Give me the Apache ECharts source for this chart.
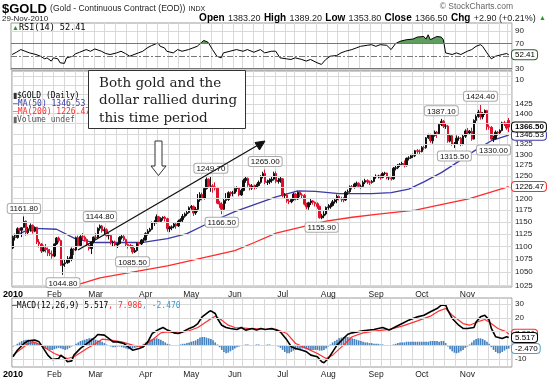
<!DOCTYPE html>
<html><head><meta charset="utf-8">
<script src="https://cdn.jsdelivr.net/npm/echarts@6/dist/echarts.min.js"></script>
<style>html,body{margin:0;padding:0;background:#fff}#c{width:550px;height:380px}</style>
</head><body><div id="c"></div>
<script>
// ---------- DATA ----------
const holidays = ['2010-01-18','2010-02-15','2010-04-02','2010-05-31','2010-07-05','2010-09-06','2010-11-25'];
// daily bars [open, close, low, high]
const ohlc = [
[1097,1118,1095,1122],[1118,1118,1112,1126],[1118,1136,1116,1139],[1136,1133,1124,1138],[1133,1138,1119,1139],
[1139,1151,1138,1161.8],[1152,1128,1122,1153],[1128,1136,1123,1140],[1136,1143,1130,1147],[1143,1131,1126,1145],
[1131,1139,1129,1141],[1139,1109,1105,1140],[1109,1105,1098,1115],[1105,1091,1087,1107],
[1091,1097,1090,1102],[1097,1094,1088,1105],[1094,1087,1081,1098],[1087,1085,1081,1095],[1085,1081,1076,1092],
[1081,1105,1079,1106],[1105,1117,1103,1119],[1117,1112,1108,1120],[1112,1063,1062,1114],[1063,1066,1044.8,1073],
[1066,1068,1060,1074],[1068,1074,1066,1081],[1074,1076,1068,1080],[1076,1095,1071,1098],[1095,1093,1083,1097],
[1093,1118,1091,1120],[1118,1102,1100,1122],[1102,1120,1100,1123],[1120,1119,1113,1127],
[1119,1114,1110,1122],[1114,1103,1099,1116],[1103,1096,1092,1105],[1096,1109,1085,1110],[1109,1119,1106,1120],
[1119,1118,1114,1127],[1118,1137,1116,1139],[1137,1142,1132,1144.8],[1142,1132,1128,1144],[1132,1134,1123,1139],
[1134,1122,1120,1137],[1122,1122,1114,1127],[1122,1108,1104,1124],[1108,1109,1101,1112],[1109,1103,1100,1112],
[1103,1106,1097,1107],[1106,1118,1104,1121],[1118,1120,1114,1125],[1120,1114,1111,1123],[1114,1104,1100,1116],
[1104,1102,1096,1106],[1102,1101,1096,1105],[1101,1089,1085.5,1103],[1089,1092,1087,1097],[1092,1106,1090,1108],
[1106,1105,1101,1109],[1105,1113,1103,1115],[1113,1113,1107,1118],[1113,1126,1112,1129],
[1126,1131,1122,1135],[1131,1135,1129,1138],[1135,1148,1133,1151],[1148,1150,1142,1154],[1150,1161,1147,1166],
[1161,1151,1148,1163],[1151,1158,1149,1160],[1158,1160,1153,1162],[1160,1157,1151,1163],[1157,1136,1130,1159],
[1136,1138,1129,1142],[1138,1140,1133,1143],[1140,1146,1137,1149],[1146,1142,1136,1148],[1142,1152,1140,1155],
[1152,1155,1149,1158],[1155,1162,1148,1167],[1162,1167,1159,1170],[1167,1170,1163,1174],[1170,1180,1168,1183],
[1180,1183,1176,1186],[1183,1169,1163,1185],[1169,1177,1165,1182],[1177,1197,1172,1210],[1197,1209,1193,1214],
[1209,1201,1196,1213],[1201,1222,1198,1224],[1222,1243,1220,1247],[1243,1227,1225,1245],[1227,1228,1215,1249.7],
[1228,1226,1213,1232],[1226,1223,1218,1236],[1223,1190,1188,1226],[1190,1188,1180,1195],[1188,1177,1166.5,1192],
[1177,1196,1175,1199],[1196,1198,1189,1212],[1198,1213,1195,1216],[1213,1212,1205,1216],[1212,1212,1205,1217],
[1212,1222,1210,1226],[1222,1224,1215,1227],[1224,1208,1205,1225],[1208,1218,1206,1222],
[1218,1240,1216,1244],[1240,1245,1235,1249],[1245,1230,1226,1247],[1230,1223,1218,1233],[1223,1228,1219,1232],
[1228,1226,1220,1231],[1226,1229,1222,1233],[1229,1236,1227,1240],[1236,1249,1233,1252],[1249,1256,1245,1260],
[1256,1236,1232,1265],[1236,1237,1230,1242],[1237,1240,1232,1245],[1240,1243,1235,1248],[1243,1256,1240,1260],
[1256,1238,1234,1261],[1238,1240,1233,1246],[1240,1244,1235,1249],
[1244,1207,1203,1245],[1207,1208,1200,1212],
[1208,1195,1191,1212],[1195,1193,1188,1199],[1193,1198,1190,1201],[1198,1210,1195,1213],
[1210,1199,1196,1212],[1199,1214,1197,1216],[1214,1208,1203,1217],[1208,1207,1200,1212],[1207,1188,1185,1210],
[1188,1182,1177,1191],[1182,1191,1176,1193],[1191,1195,1186,1199],[1195,1192,1187,1197],[1192,1189,1183,1194],
[1189,1183,1178,1192],[1183,1159,1157,1185],[1159,1163,1155.9,1167],[1163,1167,1158,1173],[1167,1181,1164,1183],
[1181,1182,1176,1188],[1182,1185,1178,1190],[1185,1193,1183,1197],[1193,1197,1189,1200],[1197,1205,1190,1209],
[1205,1200,1196,1207],[1200,1199,1193,1204],[1199,1197,1192,1203],[1197,1214,1195,1217],[1214,1215,1208,1220],
[1215,1226,1213,1229],[1226,1225,1220,1230],[1225,1232,1222,1235],[1232,1234,1227,1238],[1234,1227,1224,1236],
[1227,1227,1222,1231],[1227,1236,1224,1240],[1236,1240,1232,1244],[1240,1237,1232,1243],[1237,1236,1230,1240],
[1236,1238,1233,1241],[1238,1248,1236,1250],
[1248,1250,1244,1254],[1250,1250,1245,1253],[1250,1247,1242,1254],
[1247,1256,1245,1259],[1256,1257,1252,1260],[1257,1246,1243,1258],[1246,1246,1241,1249],
[1246,1244,1240,1249],[1244,1268,1242,1271],[1268,1269,1263,1274],[1269,1276,1266,1278],[1276,1277,1271,1280],
[1277,1279,1273,1283],[1279,1274,1270,1286],[1274,1291,1272,1293],[1291,1292,1286,1296],[1292,1297,1290,1300],
[1297,1297,1292,1302],[1297,1309,1294,1311],[1309,1308,1302,1313],[1308,1307,1299,1312],
[1307,1317,1305,1320],
[1317,1316,1311,1321],[1316,1340,1314,1342],[1340,1348,1337,1350],[1348,1333,1328,1350],[1333,1346,1326,1349],
[1346,1354,1343,1358],[1354,1350,1340,1357],[1350,1373,1348,1376],[1373,1381,1369,1387.1],[1381,1369,1364,1384],
[1369,1369,1362,1374],[1369,1332,1328,1372],[1332,1345,1329,1348],[1345,1325,1321,1349],[1325,1325,1315.5,1330],
[1325,1339,1323,1346],[1339,1339,1333,1344],[1339,1325,1320,1342],[1325,1344,1322,1347],[1344,1357,1340,1361],
[1357,1352,1347,1364],[1352,1356,1349,1359],[1356,1337,1333,1365],[1337,1383,1336,1386],[1383,1393,1375,1398],
[1393,1404,1390,1410],[1404,1392,1385,1424.4],[1392,1401,1386,1404],[1401,1408,1397,1411],[1408,1367,1359,1410],
[1367,1366,1360,1373],[1366,1337,1335,1369],[1337,1338,1330,1345],[1338,1354,1336,1358],[1354,1352,1345,1357],
[1352,1358,1349,1361],[1358,1377,1356,1380],[1377,1374,1369,1382],[1374,1364,1360,1378],
[1383.2,1366.5,1353.8,1389.2]
];
// moving averages: [day index, value]
const ma50 = [[0,1119],[5,1130],[10,1137],[20,1135],[29,1115],[38,1108],[59,1108],[71,1116],[80,1126],[90,1148],[102,1172],[111,1187],[121,1204],[131,1217],[139,1216],[150,1211],[165,1211],[174,1213],[182,1221],[189,1237],[197,1258],[205,1284],[212,1308],[220,1333],[228,1346.53]];
const ma200 = [[18,1012],[40,1039],[71,1062],[102,1092],[111,1108],[121,1127],[144,1152],[156,1160],[167,1166],[185,1175],[198,1188],[210,1200],[228,1226.47]];
const rsi = [[0,52.7],[2,56.3],[4,60.6],[6,57.9],[8,55.3],[11,52.7],[13,50],[15,45.8],[16,47.4],[18,42.2],[19,47.4],[21,45.8],[22,39.6],[24,38.5],[25,47.4],[28,50],[29,53.7],[31,56.3],[34,60.6],[36,57.9],[38,61.6],[41,57.9],[43,54.3],[45,52.7],[48,55.3],[50,57.9],[52,54.3],[54,50],[56,52.7],[58,55.3],[60,57.9],[62,63.2],[64,66.9],[67,71.1],[68,65.8],[70,63.2],[71,57.9],[74,55.3],[76,60.6],[78,57.9],[81,60.6],[83,63.2],[85,65.8],[87,72.1],[88,75.2],[90,72.1],[92,60.6],[94,50],[96,47.4],[97,55.3],[100,57.9],[103,60.6],[106,57.9],[108,60.6],[111,56.3],[114,60.6],[116,55.3],[119,57.9],[121,58],[123,47.4],[126,45.8],[128,44.8],[130,47.4],[133,44.8],[135,42.2],[137,44.8],[140,39.6],[142,36.9],[144,44.8],[146,50],[149,51.1],[151,55.3],[153,57.9],[156,60.6],[158,63.2],[160,65.8],[163,67.4],[165,68.4],[167,65.8],[169,68.4],[172,67.4],[174,60.6],[176,70],[178,73.7],[181,76.3],[184,77.3],[186,80.5],[189,81.5],[190,77.3],[191,84.2],[192,76.3],[195,81.5],[197,80.5],[198,76.3],[199,55.3],[202,52.7],[204,55.3],[206,52.7],[209,57.9],[211,60.6],[213,65.8],[215,68.4],[216,65.8],[218,55.3],[220,45.8],[222,50],[225,52.7],[227,54.3],[228,52.41]];
const macd = [[0,-8.5],[2,-3.7],[5,1.2],[7,3.2],[10,3.7],[12,2.4],[14,-2.4],[16,-7.3],[18,-10.5],[21,-9.8],[22,-7.3],[24,-9.8],[25,-12.2],[27,-11.5],[28,-7.3],[31,-2.4],[33,0],[35,2.4],[38,6.1],[39,7.8],[42,7.3],[44,4.9],[46,2.4],[48,2.4],[51,1.2],[53,-1.2],[55,-3.7],[58,-2.4],[60,-1.2],[62,2.4],[64,8.5],[67,11.5],[69,12.9],[71,11],[74,9],[76,8.5],[78,9.7],[81,12.2],[83,13.4],[85,15.8],[87,20.7],[90,24.4],[91,25.1],[93,23.2],[94,19.5],[96,14.6],[98,12.9],[100,12.2],[103,11.5],[105,12.9],[107,11],[110,12.2],[112,11],[114,12.2],[116,11.5],[119,12.2],[121,11],[123,9.7],[126,3.7],[128,-1.2],[130,-2.4],[133,-3.7],[135,-4.9],[137,-7.3],[140,-8.5],[142,-12.2],[143,-12.9],[145,-9.8],[147,-4.9],[149,0],[152,4.9],[154,8],[156,9],[161,10.5],[166,11.5],[170,12.9],[173,11],[176,13.4],[179,15.8],[182,18.3],[186,20.7],[189,21.9],[192,24.4],[195,26.8],[197,29.3],[199,29.3],[200,25.6],[202,19.5],[205,14.6],[207,12.2],[209,12.2],[212,12.9],[213,17],[215,20.7],[217,21.9],[219,18.3],[220,12.2],[222,6.1],[225,4.9],[227,6.1],[228,5.517]];
const signal = [[0,-7.3],[4,-2.4],[7,1.2],[10,2],[13,0],[16,-3.2],[19,-6.1],[22,-8],[25,-9.8],[28,-8.5],[31,-5.6],[34,-2.4],[38,1.2],[41,4.4],[45,3.7],[50,2.4],[55,0],[59,-1.2],[64,3.7],[68,9],[71,9.7],[76,9],[81,10.5],[85,12.9],[90,18.3],[93,21.2],[96,18.3],[99,14.6],[102,12.9],[108,12.2],[114,11.8],[121,11.5],[126,8.5],[130,1.2],[135,-2.4],[140,-6.1],[144,-9.8],[147,-7.3],[152,0],[156,6.1],[161,9],[167,10.5],[173,11.5],[179,13.9],[186,17.8],[192,21.2],[196,25.1],[199,26.8],[202,21.9],[207,15.8],[210,14.6],[215,17.8],[217,18.8],[219,17],[223,12.2],[227,9.7],[228,7.986]];
const hist = [
-1,0,1,2, 3,3.5,4,4,3.5,3,2.5, 1.5,0.5,-0.5,-1.5,
-2.5,-3,-3.5,-3.5,-3,-2.5,-2,-2.5,-3,-3.5,-3,-2,-1,
0,1,2,3,3.5,4,4.5,5,5,4.5,4,3.5,3,2.5,1.5,
0.5,-0.5,-1,-1.5,-1.5,-1,-1,-1.5,-2,-2.5,-3,-3,-2.5,-2,-1.5,-1,
0,1,2,3,4,4.5,5,5,4.5,4,3,2,
1,0.5,0,-0.5,-0.5,0,0.5,1,1,1.5,
2,2.5,3,3.5,4.5,5.5,6,6,5.5,5,4.5,3.5,2,
0.5,-1.5,-3.5,-5,-6,-5.5,-4.5,-3.5,-2.5,-1.5,-1,-0.5,
0,0.5,0.5,0,-0.5,0,0.5,0.5,0,-0.5,0,0.5,0.5,0,-0.5,-0.5,
-1,-2,-3.5,-5,-6,-6,-5,-4,-3.5,-3,-3,-2.5,-2.5,-3,-3.5,-3.5,
-3.5,-3.5,-3.5,-4,-4,-3.5,-2.5,-1,
0.5,2,3,4,5,5.5,6,6,6,5.5,5,4.5,4,3.5,3,2.5,
2,2,1.5,1.5,1,1,1,0.5,0.5,0,-0.5,-0.5,0,
0.5,1,1.5,2,2,2,2.5,2.5,2.5,2.5,2.5,2.5,2.5,2.5,2.5,2.5,2.5,3,3,3,3,2.5,3,3,
1.5,-1,-3,-4.5,-5.5,-6,-5.5,-4.5,-3.5,-2,
-1,0.5,2,3.5,4.5,5,5,4.5,3.5,2.5,1,
-1.5,-3.5,-5,-6,-6,-5,-4,-3,-2.47
];
// annotated highs / lows: [day index, price, side]
const callouts = [[5,1161.8,'top'],[23,1044.8,'bottom'],[40,1144.8,'top'],[55,1085.5,'bottom'],[91,1249.7,'top'],[96,1166.5,'bottom'],[116,1265.0,'top'],[142,1155.9,'bottom'],[197,1387.1,'top'],[203,1315.5,'bottom'],[215,1424.4,'top'],[221,1330.0,'bottom']];
const priceGrid = [1025,1050,1075,1100,1125,1150,1175,1200,1225,1250,1275,1300,1325,1350,1375,1400,1425,1450,1475,1500];
const priceTickLabels = [1025,1050,1075,1100,1125,1150,1175,1200,1250,1275,1300,1325,1400,1425];
const macdGrid = [-10,0,10,20,30];
const macdTickLabels = [-10,20,30];
const last = {close:1366.5, ma50:1346.53, ma200:1226.47, rsi:52.41, macd:5.517, signal:7.986, hist:-2.470};

// ---------- CATEGORIES ----------
const dates = [];
(function(){
  const d = new Date(Date.UTC(2010,0,4)), end = Date.UTC(2010,10,29);
  while (d.getTime() <= end) {
    const wd = d.getUTCDay(), s = d.toISOString().slice(0,10);
    if (wd > 0 && wd < 6 && holidays.indexOf(s) < 0) dates.push(s);
    d.setUTCDate(d.getUTCDate() + 1);
  }
})();
const cats = dates.concat(['']);
const MON = ['Jan','Feb','Mar','Apr','May','Jun','Jul','Aug','Sep','Oct','Nov','Dec'];
function dow(s){ return new Date(s + 'T00:00:00Z').getUTCDay(); }
function monthStart(i){ if (!cats[i]) return false; return i === 0 || cats[i].slice(5,7) !== cats[i-1].slice(5,7); }
function weekStart(i){ if (i === 0 || !cats[i]) return false; return dow(cats[i]) < dow(cats[i-1]); }

const FONT = 'Liberation Sans, Arial, sans-serif';
const MONO = 'DejaVu Sans Mono, monospace';
const GRIDC = '#d9d9d9';
const CLEAR = 'rgba(0,0,0,0)';

function xAx(g, labels){
  return {type:'category', gridIndex:g, data:cats, boundaryGap:true,
    axisLine:{show:false}, axisTick:{show:false},
    splitLine:{show:true, interval:(i)=>weekStart(i), lineStyle:{color:GRIDC, width:1}},
    axisLabel: labels ? {show:true, interval:(i)=>monthStart(i), margin:3, fontSize:8.5, color:'#222', fontFamily:FONT,
      formatter:(v,i)=> i === 0 ? '{y|2010}' : (v ? MON[parseInt(v.slice(5,7),10)-1] : ''),
      rich:{y:{fontWeight:'bold', fontSize:9, color:'#000', fontFamily:FONT}}} : {show:false}
  };
}
const tickLabel = {position:'end', distance:3, fontSize:8, color:'#222', fontFamily:FONT};
function tag(v, txt, border, bold){
  return {yAxis:v, lineStyle:{color:CLEAR, width:1, type:'solid'}, label:{show:true, position:'end', distance:0, formatter:txt, fontSize:8, fontFamily:FONT,
    fontWeight: bold ? 'bold' : 'normal', color:'#000', backgroundColor:'#fff', borderColor:border, borderWidth:1, borderRadius:3, padding:[1,2,0,3]}};
}

const chart = echarts.init(document.getElementById('c'), null, {renderer:'canvas'});
chart.setOption({
  animation:false,
  backgroundColor:'#fff',
  textStyle:{fontFamily:FONT},
  grid:[
    {left:11, right:38, top:23, height:47, show:true, borderColor:'#9a9a9a', borderWidth:1, backgroundColor:'#fff'},
    {left:11, right:38, top:71, height:216, show:true, borderColor:'#9a9a9a', borderWidth:1, backgroundColor:'#fff'},
    {left:11, right:38, top:298, height:69, show:true, borderColor:'#9a9a9a', borderWidth:1, backgroundColor:'#fff'}
  ],
  xAxis:[xAx(0,false), xAx(1,true), xAx(2,true)],
  yAxis:[
    {type:'value', gridIndex:0, min:28, max:103, show:false},
    {type:'log', gridIndex:1, min:1022, max:1513, show:false},
    {type:'value', gridIndex:2, min:-16, max:34.5, show:false}
  ],
  visualMap:[{type:'piecewise', show:false, seriesIndex:0, dimension:1,
    pieces:[{gt:70, lte:200, color:'#5f9e5f'},{gte:-100, lte:70, color:CLEAR}],
    outOfRange:{color:CLEAR}}],
  series:[
    {type:'line', xAxisIndex:0, yAxisIndex:0, data:rsi, symbol:'none', lineStyle:{width:0}, areaStyle:{origin:70, opacity:1}, z:1, silent:true},
    {type:'line', xAxisIndex:0, yAxisIndex:0, data:rsi, symbol:'none', lineStyle:{color:'#000', width:1}, z:3, silent:true,
      markLine:{silent:true, symbol:['none','none'], animation:false, label:Object.assign({formatter:(p)=>p.value}, tickLabel),
        data:[
          {yAxis:90, lineStyle:{color:GRIDC, type:'solid', width:1}},
          {yAxis:70, lineStyle:{color:'#777', type:'solid', width:1}},
          {yAxis:50, lineStyle:{color:'#777', type:[6,2,2,2], width:1}, label:{show:false}},
          {yAxis:30, lineStyle:{color:'#777', type:'solid', width:1}},
          tag(last.rsi, last.rsi.toFixed(2), '#2f5f2f', false)
        ]}},
    {type:'line', xAxisIndex:1, yAxisIndex:1, data:[], symbol:'none', z:1, silent:true,
      markLine:{silent:true, symbol:['none','none'], animation:false,
        label:Object.assign({formatter:(p)=>p.value}, tickLabel),
        lineStyle:{color:GRIDC, type:'solid', width:1},
        data: priceGrid.map(v => ({yAxis:v, label:{show: priceTickLabels.indexOf(v) >= 0}}))}},
    {type:'line', xAxisIndex:1, yAxisIndex:1, data:ma200, symbol:'none', lineStyle:{color:'#ff2a2a', width:1.3}, z:3, silent:true},
    {type:'line', xAxisIndex:1, yAxisIndex:1, data:ma50, symbol:'none', lineStyle:{color:'#3a3aa8', width:1.3}, z:3, silent:true},
    {type:'candlestick', xAxisIndex:1, yAxisIndex:1, data:ohlc, barMinWidth:2, barMaxWidth:2.6, z:4, silent:true,
      itemStyle:{color:'#111', color0:'#e3102d', borderColor:'#111', borderColor0:'#e3102d', borderWidth:1},
      markPoint:{silent:true, animation:false, symbol:'circle', symbolSize:1, itemStyle:{color:CLEAR},
        data: callouts.map(c => ({coord:[c[0], c[1]], value:c[1],
          label:{show:true, position:c[2], distance:3, formatter:(p)=>Number(p.value).toFixed(2), fontSize:8, fontFamily:FONT, color:'#111',
            backgroundColor:'#fff', borderColor:'#aaa', borderWidth:1, borderRadius:2, padding:[1,2,0,2]}}))},
      markLine:{silent:true, symbol:['none','none'], animation:false,
        data:[tag(last.ma200, last.ma200.toFixed(2), '#ff2a2a', false), tag(last.ma50, last.ma50.toFixed(2), '#3a3aa8', false), tag(last.close, last.close.toFixed(2), '#000', true)]}},
    {type:'bar', xAxisIndex:2, yAxisIndex:2, data:hist, barCategoryGap:'25%', itemStyle:{color:'#4683be'}, z:2, silent:true,
      markLine:{silent:true, symbol:['none','none'], animation:false,
        label:Object.assign({formatter:(p)=>p.value}, tickLabel),
        lineStyle:{color:GRIDC, type:'solid', width:1},
        data: macdGrid.map(v => ({yAxis:v, label:{show: macdTickLabels.indexOf(v) >= 0}})).concat([
          tag(last.signal, last.signal.toFixed(3), '#ff2a2a', false),
          tag(last.macd, last.macd.toFixed(3), '#000', false),
          tag(last.hist, last.hist.toFixed(3), '#4b9fd6', false)])}},
    {type:'line', xAxisIndex:2, yAxisIndex:2, data:signal, symbol:'none', lineStyle:{color:'#ff3030', width:1.2}, z:3, silent:true},
    {type:'line', xAxisIndex:2, yAxisIndex:2, data:macd, symbol:'none', lineStyle:{color:'#000', width:1.6}, z:4, silent:true}
  ],
  graphic:[
    {type:'text', x:2, y:9, z:10, style:{text:'{a|$GOLD} {b|(Gold - Continuous Contract (EOD))} {c|INDX}', verticalAlign:'middle',
      rich:{a:{fontSize:13, fontWeight:'bold', fill:'#000', fontFamily:'Liberation Sans Narrow, Liberation Sans, Arial'}, b:{fontSize:8.5, fill:'#222', fontFamily:FONT}, c:{fontSize:7, fill:'#222', fontFamily:FONT}}}},
    {type:'text', x:2, y:18.5, z:10, style:{text:'29-Nov-2010', fontSize:8, fill:'#222', fontFamily:FONT, verticalAlign:'middle'}},
    {type:'text', x:546, y:18.5, z:10, style:{text:'{l|Open} {v|1383.20} {l|High} {v|1389.20} {l|Low} {v|1353.80} {l|Close} {v|1366.50} {l|Chg} {v|+2.90 (+0.21%)} {g|▲}',
      align:'right', verticalAlign:'middle',
      rich:{l:{fontSize:10, fontWeight:'bold', fill:'#000', fontFamily:FONT}, v:{fontSize:9, fill:'#222', fontFamily:FONT}, g:{fontSize:7, fill:'#2a9a2a', fontFamily:FONT}}}},
    {type:'text', x:513, y:7, z:10, style:{text:'© StockCharts.com', fontSize:8.5, fill:'#666', fontFamily:FONT, align:'right', verticalAlign:'middle'}},
    {type:'text', x:12, y:28, z:10, style:{text:'{i|▲}{t|RSI(14) 52.41}', verticalAlign:'middle',
      rich:{i:{fontSize:7, fill:'#3d8a3d', fontFamily:FONT}, t:{fontSize:8.5, fill:'#000', fontFamily:MONO}}}},
    {type:'text', x:13, y:96, z:10, style:{text:'{i|▮}{t|$GOLD (Daily)}', verticalAlign:'middle', rich:{i:{fontSize:8, fill:'#333', fontFamily:FONT}, t:{fontSize:8, fill:'#000', fontFamily:MONO}}}},
    {type:'text', x:13, y:104, z:10, style:{text:'—MA(50) 1346.53', fontSize:8, fill:'#3a3aa8', fontFamily:MONO, verticalAlign:'middle'}},
    {type:'text', x:13, y:112, z:10, style:{text:'—MA(200) 1226.47', fontSize:8, fill:'#ff2a2a', fontFamily:MONO, verticalAlign:'middle'}},
    {type:'text', x:13, y:120, z:10, style:{text:'{i|▮}{t|Volume undef}', verticalAlign:'middle', rich:{i:{fontSize:8, fill:'#666', fontFamily:FONT}, t:{fontSize:8, fill:'#555', fontFamily:MONO}}}},
    {type:'text', x:515, y:80, z:10, style:{text:'10', fontSize:8, fill:'#222', fontFamily:FONT, verticalAlign:'middle'}},
    {type:'text', x:12, y:305.5, z:10, style:{text:'{k|—MACD(12,26,9) 5.517}{r|, 7.986}{b|, -2.470}', verticalAlign:'middle',
      rich:{k:{fontSize:8, fill:'#000', fontFamily:MONO}, r:{fontSize:8, fill:'#ff2a2a', fontFamily:MONO}, b:{fontSize:8, fill:'#3a9ad6', fontFamily:MONO}}}},
    {type:'rect', z:20, shape:{x:88.5, y:70.5, width:157, height:58}, style:{fill:'#fff', stroke:'#333', lineWidth:1}},
    {type:'text', x:99, y:83, z:21, style:{text:'Both gold and the', fontSize:13.5, fill:'#222', fontFamily:'DejaVu Serif, serif', verticalAlign:'middle'}},
    {type:'text', x:99, y:100.5, z:21, style:{text:'dollar rallied during', fontSize:13.5, fill:'#222', fontFamily:'DejaVu Serif, serif', verticalAlign:'middle'}},
    {type:'text', x:99, y:118, z:21, style:{text:'this time period', fontSize:13.5, fill:'#222', fontFamily:'DejaVu Serif, serif', verticalAlign:'middle'}},
    {type:'polygon', z:20, shape:{points:[[155,141],[162,141],[162,166],[166,166],[158.5,175.5],[151,166],[155,166]]}, style:{fill:'#fff', stroke:'#333', lineWidth:1}},
    {type:'line', z:20, shape:{x1:78, y1:250, x2:259, y2:144.5}, style:{stroke:'#111', lineWidth:1.3}},
    {type:'polygon', z:20, shape:{points:[[265,141],[255,142.5],[259.5,150]]}, style:{fill:'#111', stroke:'#111', lineWidth:1}}
  ]
});
</script>
</body></html>
